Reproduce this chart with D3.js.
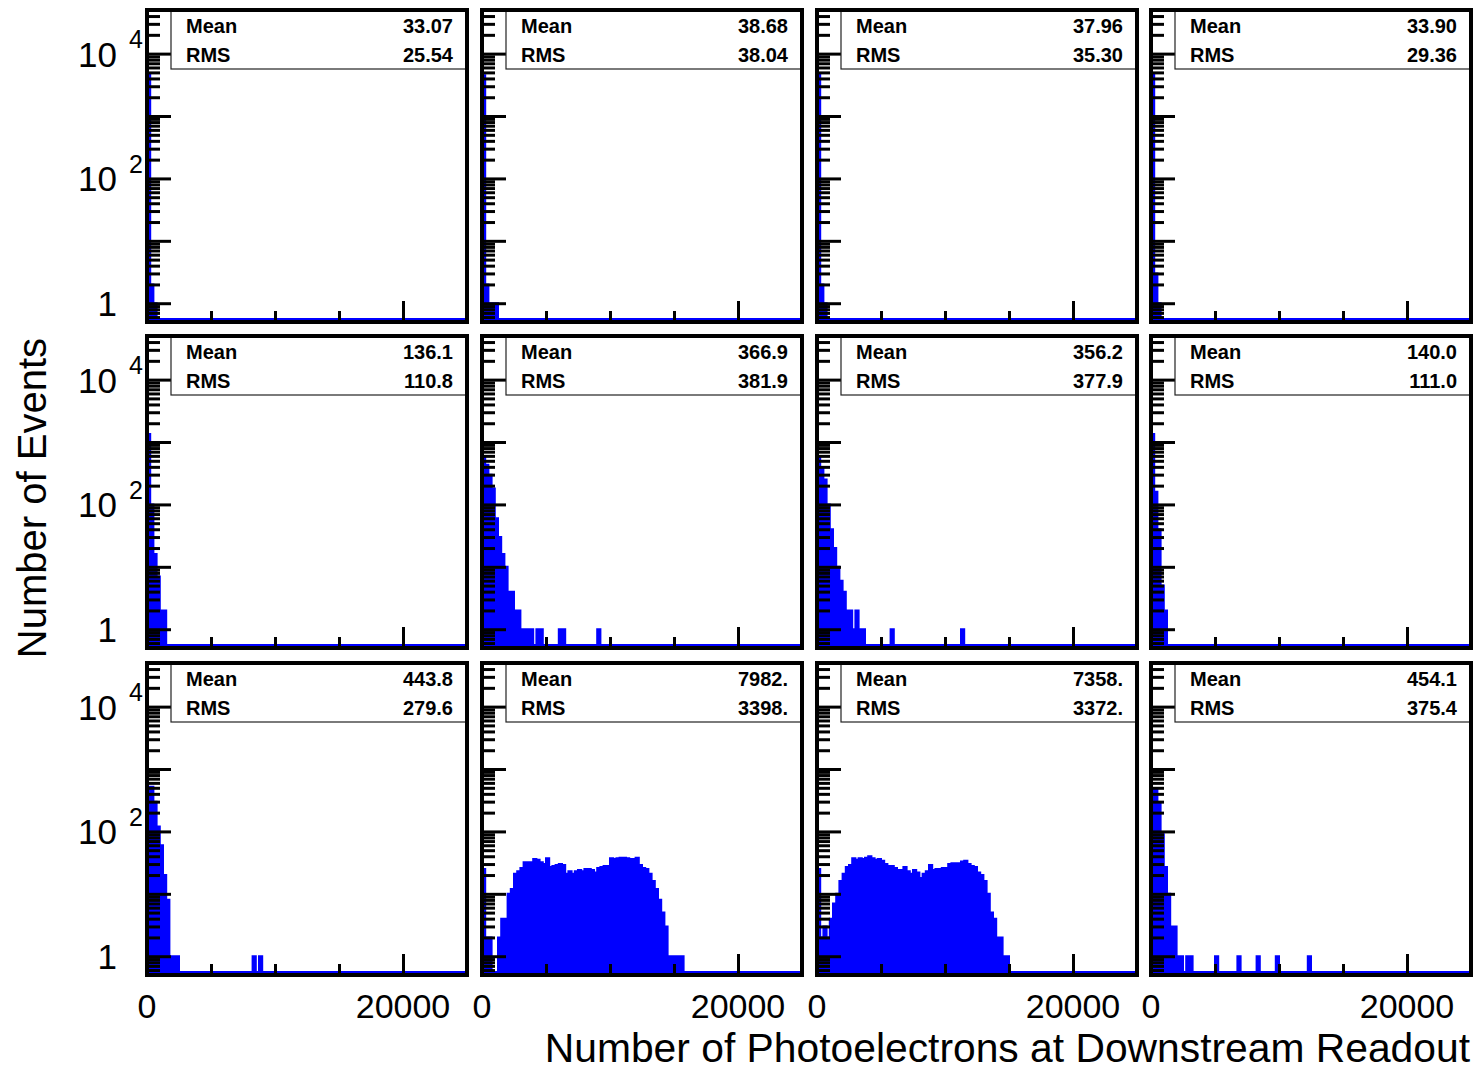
<!DOCTYPE html>
<html><head><meta charset="utf-8">
<script src="https://cdn.jsdelivr.net/npm/d3@7"></script>
<style>
body{margin:0;background:#fff}
svg{display:block}
text{font-family:"Liberation Sans",Arial,Helvetica,sans-serif;fill:#000}
</style>
</head><body>
<svg id="c" width="1479" height="1072"></svg>
<script>
// ---------- data ----------
const binWidth = 250;
const xDomain = [0, 25000];
const yDomain = [0.5, 50000];
const yMajorTicks = [1, 10, 100, 1000, 10000];
const yLabelValues = [1, 100, 10000];
const yLabelBase = ["1", "10", "10"];
const yLabelExp = ["", "2", "4"];
const xMajorTicks = [0, 20000];
const xMinorTicks = [5000, 10000, 15000, 25000];
const xLabelValues = [0, 20000];
const xLabelText = ["0", "20000"];
const statNames = ["Mean", "RMS"];
const means = ["33.07","38.68","37.96","33.90","136.1","366.9","356.2","140.0","443.8","7982.","7358.","454.1"];
const rmss  = ["25.54","38.04","35.30","29.36","110.8","381.9","377.9","111.0","279.6","3398.","3372.","375.4"];
const xTitle = "Number of Photoelectrons at Downstream Readout";
const yTitle = "Number of Events";

// bin counts (bin width 250, starting at 0)
const h11 = [4900, 2, 1];
const h12 = [4500, 2, 1, 1, 1];
const h13 = [4600, 2, 1];
const h14 = [4800, 3, 1];
const h21 = [1350, 100, 16, 7, 2, 2];
const h22 = [590,433,300,180,60,30,16,10,4,4, 2,2,1,1,1,1,0,1,1,0, 0,0,0,0,1,1,0,0,0,0, 0,0,0,0,0,0,1];
const h23 = [590,384,250,100,40,20,10,6,4,2, 2,1,2,1,1,0,0,0,0,0, 0,0,0,1,0,0,0,0,0,0, 0,0,0,0,0,0,0,0,0,0, 0,0,0,0,0,1];
const h24 = [1350, 160, 40, 5, 2];
const h31 = [520,520,300,120,60,20,8,1,1,1, 0,0,0,0,0,0,0,0,0,0, 0,0,0,0,0,0,0,0,0,0, 0,0,0,1,0,1];
const h32 = [25,2,2,0,0,2,4,4,10,12, 21,23,26,32,32,32,36,35,32,30, 37,27,28,29,30,29,21,23,21,23,
             24,23,25,25,24,22,26,27,28,28, 37,36,37,38,38,37,36,36,38,29, 26,25,21,16,12,8,5,3,1,1, 1,1,1];
const h33 = [25,2,3,2,4,7,10,16,21,27, 29,37,35,37,36,38,40,37,35,36, 34,30,28,28,26,24,24,27,23,21,
             24,22,18,21,23,29,24,25,25,26, 26,30,31,31,31,33,34,30,28,27, 22,20,16,10,5,4,2,2,1,1];
const h34 = [490,490,282,90,27,10,3,3,1,1, 0,1,1,0,0,0,0,0,0,0, 1,0,0,0,0,0,0,1,0,0, 0,0,0,1,0,0,0,0,0,1,
             0,0,0,0,0,0,0,0,0,1];
const panels = [h11,h12,h13,h14,h21,h22,h23,h24,h31,h32,h33,h34];

// ---------- layout ----------
const colLeft = [147, 482, 817, 1151];
const rowTop = [10, 336, 663];
const pw = 320, ph = 312;
const blue = "#0000ff";

const svg = d3.select("#c");
const x = d3.scaleLinear().domain(xDomain).range([0, pw]);
const y = d3.scaleLog().domain(yDomain).range([ph, 0]);

// minor log ticks
const yMinorTicks = [];
[0.1, 1, 10, 100, 1000, 10000].forEach(d => {
  for (let k = 2; k <= 9; k++) {
    const v = k * d;
    if (v > yDomain[0] * 1.0001 && v < yDomain[1] * 0.9999) yMinorTicks.push(v);
  }
});

const nb = Math.round((xDomain[1] - xDomain[0]) / binWidth);

panels.forEach((counts, k) => {
  const r = Math.floor(k / 4), c = k % 4;
  const g = svg.append("g").attr("transform", `translate(${colLeft[c]},${rowTop[r]})`);
  const clipId = "clip" + k;
  g.append("clipPath").attr("id", clipId).append("rect").attr("width", pw).attr("height", ph);

  const pts = d3.range(nb + 1).map(i => ({ x: xDomain[0] + i * binWidth, v: i < nb ? (counts[i] || 0) : 0 }));
  const hg = g.append("g").attr("clip-path", `url(#${clipId})`);
  const area = d3.area().curve(d3.curveStepAfter)
    .x(d => x(d.x)).y0(ph).y1(d => d.v > 0 ? y(d.v) : ph);
  hg.append("path").attr("d", area(pts)).attr("fill", blue);
  const line = d3.line().curve(d3.curveStepAfter)
    .x(d => x(d.x)).y(d => d.v > 0 ? y(d.v) : ph - 3);
  hg.append("path").attr("d", line(pts)).attr("fill", "none")
    .attr("stroke", blue).attr("stroke-width", 2);

  // y ticks
  const styleAxis = s => {
    s.select(".domain").remove();
    s.selectAll("line").attr("stroke", "#000").attr("stroke-width", 3);
    s.selectAll("text").remove();
  };
  g.append("g").call(d3.axisRight(y).tickValues(yMajorTicks).tickSize(24).tickFormat("")).call(styleAxis);
  g.append("g").call(d3.axisRight(y).tickValues(yMinorTicks).tickSize(13).tickFormat("")).call(styleAxis);
  // x ticks
  g.append("g").attr("transform", `translate(0,${ph})`)
    .call(d3.axisTop(x).tickValues(xMajorTicks).tickSize(21).tickFormat("")).call(styleAxis);
  g.append("g").attr("transform", `translate(0,${ph})`)
    .call(d3.axisTop(x).tickValues(xMinorTicks).tickSize(11).tickFormat("")).call(styleAxis);

  // stats box
  g.append("rect").attr("x", 24).attr("y", 0).attr("width", pw - 24).attr("height", 59)
    .attr("fill", "#fff").attr("stroke", "#222").attr("stroke-width", 1.2);
  [means[k], rmss[k]].forEach((val, j) => {
    g.append("text").attr("x", 39).attr("y", 22.5 + j * 29.2)
      .attr("font-size", 20).attr("font-weight", "bold").text(statNames[j]);
    g.append("text").attr("x", 306).attr("y", 22.5 + j * 29.2).attr("text-anchor", "end")
      .attr("font-size", 20).attr("font-weight", "bold").text(val);
  });

  // frame
  g.append("rect").attr("width", pw).attr("height", ph)
    .attr("fill", "none").attr("stroke", "#000").attr("stroke-width", 4);

  // y labels on first column
  if (c === 0) {
    yLabelValues.forEach((v, j) => {
      g.append("text").attr("x", -30).attr("y", y(v) + 13).attr("text-anchor", "end")
        .attr("font-size", 35).text(yLabelBase[j]);
      if (yLabelExp[j]) {
        g.append("text").attr("x", -18).attr("y", y(v) - 5.5)
          .attr("font-size", 25).text(yLabelExp[j]);
      }
    });
  }
  // x labels on last row
  if (r === 2) {
    xLabelValues.forEach((v, j) => {
      g.append("text").attr("x", x(v)).attr("y", ph + 43).attr("text-anchor", "middle")
        .attr("font-size", 34).text(xLabelText[j]);
    });
  }
});

// axis titles
svg.append("text").attr("transform", "translate(46,338) rotate(-90)")
  .attr("text-anchor", "end").attr("font-size", 40).text(yTitle);
svg.append("text").attr("x", 1470).attr("y", 1062).attr("text-anchor", "end")
  .attr("font-size", 40.8).text(xTitle);
</script>
</body></html>
